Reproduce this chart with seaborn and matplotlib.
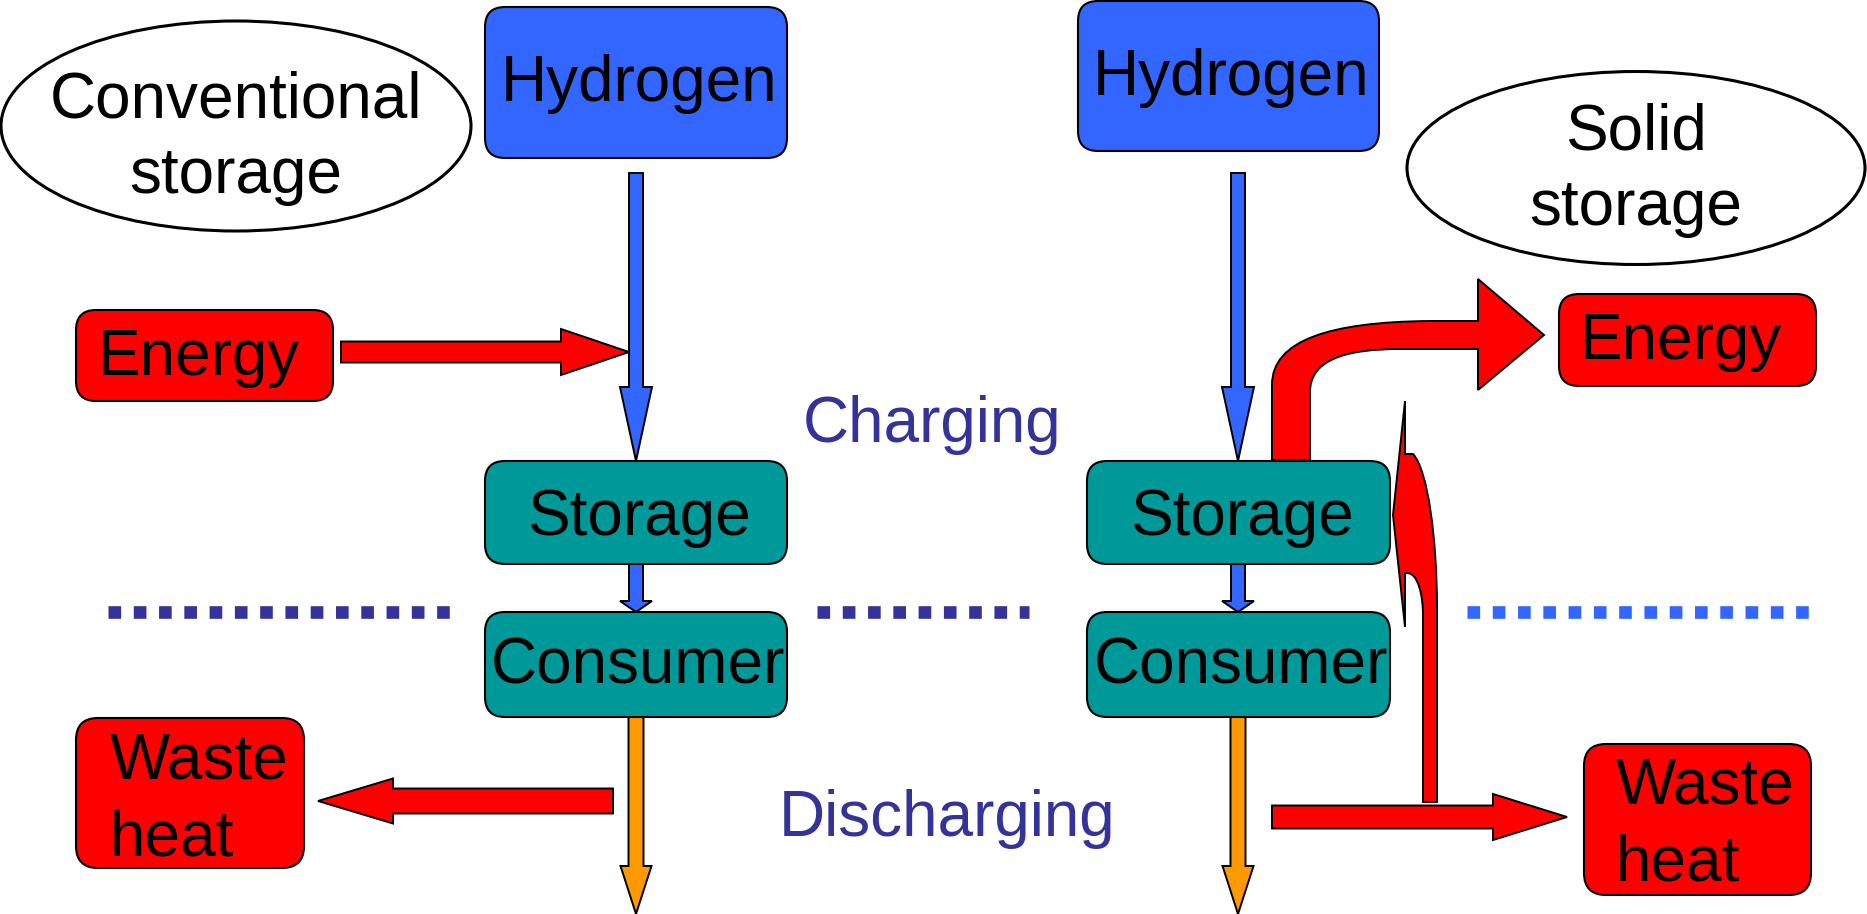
import matplotlib
matplotlib.use("Agg")
import matplotlib.pyplot as plt
import seaborn as sns
from matplotlib.patches import FancyBboxPatch, Ellipse, Polygon, PathPatch
from matplotlib.path import Path

sns.set_style("white")
plt.rcParams["font.family"] = ["Liberation Sans", "DejaVu Sans"]

# ---------------------------------------------------------------------------
# Diagram content (pixel space of a 1867 x 914 canvas, y pointing down)
# ---------------------------------------------------------------------------
BLUE = "#3366FF"
TEAL = "#009999"
RED = "#FF0000"
ORANGE = "#FF9900"
NAVY = "#333399"
FS = 46

# rounded boxes: label, left, top, right, bottom, colour, text offset
box_labels = ["Hydrogen", "Hydrogen", "Storage", "Storage", "Consumer", "Consumer", "Energy", "Energy"]
box_left = [485, 1078, 485, 1087, 485, 1087, 76, 1559]
box_top = [7, 1, 461, 461, 612, 612, 310, 294]
box_right = [787, 1379, 787, 1390, 787, 1390, 333, 1816]
box_bottom = [158, 151, 564, 564, 717, 717, 401, 386]
box_colors = [BLUE, BLUE, TEAL, TEAL, TEAL, TEAL, RED, RED]
box_dx = [3, 3, 3, 3, 2, 2, -6, -7]
box_dy = [2, 2, 6, 6, 2, 2, 2, 2]

# waste heat boxes (left aligned two-line text)
waste_left = [76, 1584]
waste_top = [718, 744]
waste_right = [304, 1811]
waste_bottom = [868, 895]
waste_text_x = [110, 1616]
waste_text_y = [800, 825]

# ellipses: label, centre x, centre y, width, height
ell_labels = ["Conventional\nstorage", "Solid\nstorage"]
ell_cx = [236, 1636]
ell_cy = [126, 168]
ell_w = [470, 458]
ell_h = [210, 193]
ell_text_y = [138, 170]

# straight block arrows: start (x, y), tip (x, y), shaft width, head width, head length, colour
arr_start = [(636, 173), (1238, 173), (636, 564), (1238, 564), (636, 717), (1238, 717),
             (341, 352), (613, 801), (1272, 817)]
arr_tip = [(636, 461), (1238, 461), (636, 612), (1238, 612), (636, 914), (1238, 914),
           (629, 352), (318, 801), (1567, 817)]
arr_shaft = [14, 14, 14, 14, 15, 15, 21, 25, 23]
arr_head = [32, 32, 32, 32, 31, 31, 46, 45, 46]
arr_hlen = [74, 74, 11, 11, 48, 48, 68, 75, 74]
arr_colors = [BLUE, BLUE, BLUE, BLUE, ORANGE, ORANGE, RED, RED, RED]

# dotted separators: x start, x end, colour
sep_x0 = [108, 817, 1467]
sep_x1 = [451, 1029, 1811]
sep_colors = [NAVY, NAVY, BLUE]
sep_y = 612


def block_arrow(ax, start, tip, shaft, head, hlen, color):
    (x0, y0), (x1, y1) = start, tip
    dx, dy = x1 - x0, y1 - y0
    length = (dx ** 2 + dy ** 2) ** 0.5
    ux, uy = dx / length, dy / length
    nx, ny = -uy, ux
    bx, by = x1 - ux * hlen, y1 - uy * hlen
    s, h = shaft / 2, head / 2
    pts = [(x0 + nx * s, y0 + ny * s), (bx + nx * s, by + ny * s), (bx + nx * h, by + ny * h),
           (x1, y1), (bx - nx * h, by - ny * h), (bx - nx * s, by - ny * s), (x0 - nx * s, y0 - ny * s)]
    ax.add_patch(Polygon(pts, closed=True, fc=color, ec="black", lw=1.4, joinstyle="miter"))


fig = plt.figure(figsize=(18.67, 9.14), dpi=100)
ax = fig.add_axes([0, 0, 1, 1])
ax.set_xlim(0, 1867)
ax.set_ylim(914, 0)
ax.axis("off")

# arrows first, boxes on top
for st, tp, sw, hw, hl, c in zip(arr_start, arr_tip, arr_shaft, arr_head, arr_hlen, arr_colors):
    block_arrow(ax, st, tp, sw, hw, hl, c)

# curved arrow from right storage to energy
M, L, C, Z = Path.MOVETO, Path.LINETO, Path.CURVE4, Path.CLOSEPOLY
curve_pts = [(1272, 460), (1272, 385), (1272, 340), (1330, 322), (1430, 321), (1478, 321),
             (1478, 279), (1544, 335), (1478, 390), (1478, 349), (1400, 349),
             (1345, 349), (1310, 360), (1310, 392), (1310, 460), (1272, 460)]
curve_codes = [M, L, C, C, C, L, L, L, L, L, L, C, C, C, L, Z]
ax.add_patch(PathPatch(Path(curve_pts, curve_codes), fc=RED, ec="black", lw=1.4))

# thin curved arrow pointing back at the storage
back_pts = [(1393, 515), (1405, 401), (1405, 454), (1413, 454),
            (1428, 470), (1437, 540), (1437, 608), (1437, 802), (1423, 802), (1423, 615),
            (1423, 595), (1418, 573), (1407, 573), (1405, 573), (1405, 627), (1393, 515)]
back_codes = [M, L, L, L, C, C, C, L, L, L, C, C, C, L, L, Z]
ax.add_patch(PathPatch(Path(back_pts, back_codes), fc=RED, ec="black", lw=1.4))

for lab, x0, y0, x1, y1, c, tdx, tdy in zip(box_labels, box_left, box_top, box_right, box_bottom,
                                            box_colors, box_dx, box_dy):
    ax.add_patch(FancyBboxPatch((x0, y0), x1 - x0, y1 - y0, boxstyle="round,pad=0,rounding_size=20",
                                fc=c, ec="black", lw=1.5))
    ax.text((x0 + x1) / 2 + tdx, (y0 + y1) / 2 + tdy, lab, ha="center", va="center", fontsize=FS,
            color="black")

for x0, y0, x1, y1, tx, ty in zip(waste_left, waste_top, waste_right, waste_bottom, waste_text_x, waste_text_y):
    ax.add_patch(FancyBboxPatch((x0, y0), x1 - x0, y1 - y0, boxstyle="round,pad=0,rounding_size=22",
                                fc=RED, ec="black", lw=1.5))
    ax.text(tx, ty, "Waste\nheat", ha="left", va="center", fontsize=FS, linespacing=1.36, color="black")

for lab, cx, cy, w, h, ty in zip(ell_labels, ell_cx, ell_cy, ell_w, ell_h, ell_text_y):
    ax.add_patch(Ellipse((cx, cy), w, h, fc="white", ec="black", lw=2.2))
    ax.text(cx, ty, lab, ha="center", va="center", fontsize=FS, linespacing=1.33, color="black")

for x0, x1, c in zip(sep_x0, sep_x1, sep_colors):
    ax.plot([x0, x1], [sep_y, sep_y], color=c, lw=9.1, linestyle=(0, (1, 1)), solid_capstyle="butt",
            dash_capstyle="butt")

ax.text(932, 425, "Charging", ha="center", va="center", fontsize=FS, color=NAVY)
ax.text(947, 819, "Discharging", ha="center", va="center", fontsize=FS, color=NAVY)

fig.savefig("out.png", dpi=100)
